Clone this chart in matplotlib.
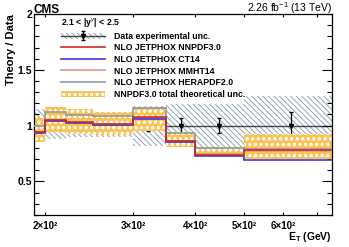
import matplotlib
matplotlib.use("Agg")
import matplotlib.pyplot as plt
import matplotlib.patches as mpatches
from matplotlib.lines import Line2D
from matplotlib.ticker import FixedLocator, FixedFormatter, MultipleLocator, NullLocator

plt.rcParams['font.family'] = ['Liberation Sans', 'DejaVu Sans']
plt.rcParams['mathtext.fontset'] = 'custom'
plt.rcParams['mathtext.rm'] = 'Liberation Sans'
plt.rcParams['mathtext.it'] = 'Liberation Sans:italic'
plt.rcParams['mathtext.bf'] = 'Liberation Sans:bold'
plt.rcParams['hatch.linewidth'] = 0.6

# bin edges in E_T (GeV)
edges = [190, 200, 220, 250, 300, 350, 400, 500, 750]

# theory / data ratios per bin
nnpdf = [0.945, 1.05, 1.03, 1.015, 1.075, 0.865, 0.74, 0.78]
ct14 = [0.935, 1.045, 1.02, 1.005, 1.06, 0.85, 0.73, 0.69]
mmht = [0.94, 1.05, 1.025, 1.01, 1.07, 0.86, 0.745, 0.77]
hera = [1.0, 1.12, 1.095, 1.09, 1.16, 0.935, 0.80, 0.795]

# NNPDF3.0 total theoretical uncertainty band
nnpdf_lo = [0.85, 0.94, 0.925, 0.915, 0.955, 0.805, 0.73, 0.70]
nnpdf_hi = [1.08, 1.17, 1.15, 1.125, 1.165, 0.94, 0.81, 0.925]

# data: experimental (syst) band half width, points and stat errors
data_unc = [0.15, 0.12, 0.10, 0.10, 0.18, 0.19, 0.19, 0.27]
data_et = [195, 209, 234, 273, 322, 374, 447, 621]
data_ratio = [1.0, 1.0, 1.0, 1.0, 1.0, 1.0, 1.0, 1.0]
data_stat = [0.01, 0.01, 0.015, 0.02, 0.045, 0.065, 0.07, 0.12]

xticks = [200, 300, 400, 500, 600, 700]
xtick_labels = ['2×10²', '3×10²', '4×10²', '5×10²', '6×10²', '']

c_red = '#cc2a2a'
c_blue = '#3a3ae0'
c_pink = '#d59a8c'
c_grey = '#8e9aa6'
c_orange = '#fbc354'
c_hatch = '#7f96b0'
hatch_data = '\\' * 6
hatch_orange = 'ooo'

fig = plt.figure(figsize=(3.49, 2.47), dpi=100)
ax = fig.add_axes([0.0974, 0.1296, 0.853, 0.8137])
ax.set_xscale('log')

lo = [1 - u for u in data_unc]
hi = [1 + u for u in data_unc]
ax.stairs(hi, edges, baseline=lo, fill=True, facecolor='none',
          edgecolor=c_hatch, hatch=hatch_data, linewidth=0, zorder=1)

ax.hlines(data_ratio, edges[:-1], edges[1:], color='#444444', lw=1.0, zorder=1.5)
err = ax.errorbar(data_et, data_ratio, yerr=data_stat, fmt='v', color='black',
                  ms=3, elinewidth=0.9, capsize=1.2, zorder=1.8)

ax.stairs(nnpdf_hi, edges, baseline=nnpdf_lo, fill=True, facecolor=c_orange,
          edgecolor='white', hatch=hatch_orange, linewidth=0, zorder=2)

ax.stairs(hera, edges, baseline=None, color=c_grey, lw=1.2, zorder=3)
ax.stairs(mmht, edges, baseline=None, color=c_pink, lw=1.2, zorder=3)
ax.stairs(ct14, edges, baseline=None, color=c_blue, lw=1.2, zorder=3)
ax.stairs(nnpdf, edges, baseline=None, color=c_red, lw=1.2, zorder=3)

ax.set_xlim(190, 750)
ax.set_ylim(0.2, 2.0)

ax.xaxis.set_major_locator(FixedLocator(xticks))
ax.xaxis.set_major_formatter(FixedFormatter(xtick_labels))
ax.xaxis.set_minor_locator(NullLocator())
ax.yaxis.set_major_locator(FixedLocator([0.5, 1.0, 1.5, 2.0]))
ax.yaxis.set_major_formatter(FixedFormatter(['0.5', '1', '1.5', '2']))
ax.yaxis.set_minor_locator(MultipleLocator(0.1))

ax.tick_params(which='both', direction='in', top=True, right=True, width=0.8)
ax.tick_params(axis='y', which='major', length=7, pad=1.5, labelsize=7.5)
ax.tick_params(axis='y', which='minor', length=3.5)
ax.tick_params(axis='x', which='major', length=2.5, pad=4.5, labelsize=7)
for lab in ax.get_xticklabels() + ax.get_yticklabels():
    lab.set_fontweight('bold')
for sp in ax.spines.values():
    sp.set_linewidth(0.9)

ax.set_ylabel('Theory / Data', loc='top', fontsize=8, fontweight='bold', labelpad=1)
ax.set_xlabel(r'$\mathbf{E_{T}}$ (GeV)', loc='right', fontsize=7.5,
              fontweight='bold', labelpad=-1)

ax.text(0.0, 1.003, 'CMS', transform=ax.transAxes, fontsize=8.5,
        fontweight='bold', ha='left', va='baseline')
ax.text(1.0, 1.01, '2.26 fb$^{-1}$ (13 TeV)', transform=ax.transAxes,
        fontsize=7.5, ha='right', va='baseline')

h_band = mpatches.Patch(facecolor='none', edgecolor=c_hatch, hatch=hatch_data, linewidth=0)
h_line = Line2D([], [], color='#444444', lw=1.0)
h_orange = mpatches.Patch(facecolor=c_orange, edgecolor='white', hatch=hatch_orange, linewidth=0)
handles = [(h_band, h_line, err),
           Line2D([], [], color=c_red, lw=1.2),
           Line2D([], [], color=c_blue, lw=1.2),
           Line2D([], [], color=c_pink, lw=1.2),
           Line2D([], [], color=c_grey, lw=1.2),
           h_orange]
labels = ['Data experimental unc.',
          'NLO JETPHOX NNPDF3.0',
          'NLO JETPHOX CT14',
          'NLO JETPHOX MMHT14',
          'NLO JETPHOX HERAPDF2.0',
          'NNPDF3.0 total theoretical unc.']
leg = ax.legend(handles, labels, loc='upper left', bbox_to_anchor=(0.09, 0.99),
                frameon=False, prop=dict(weight='bold', size=6.3),
                handlelength=5.1, handletextpad=1.0, labelspacing=0.3,
                borderpad=0, borderaxespad=0,
                title=r'2.1 < |y$^{\gamma}$| < 2.5',
                title_fontproperties=dict(weight='bold', size=6.3),
                alignment='left')

fig.savefig('out.png', dpi=100)
